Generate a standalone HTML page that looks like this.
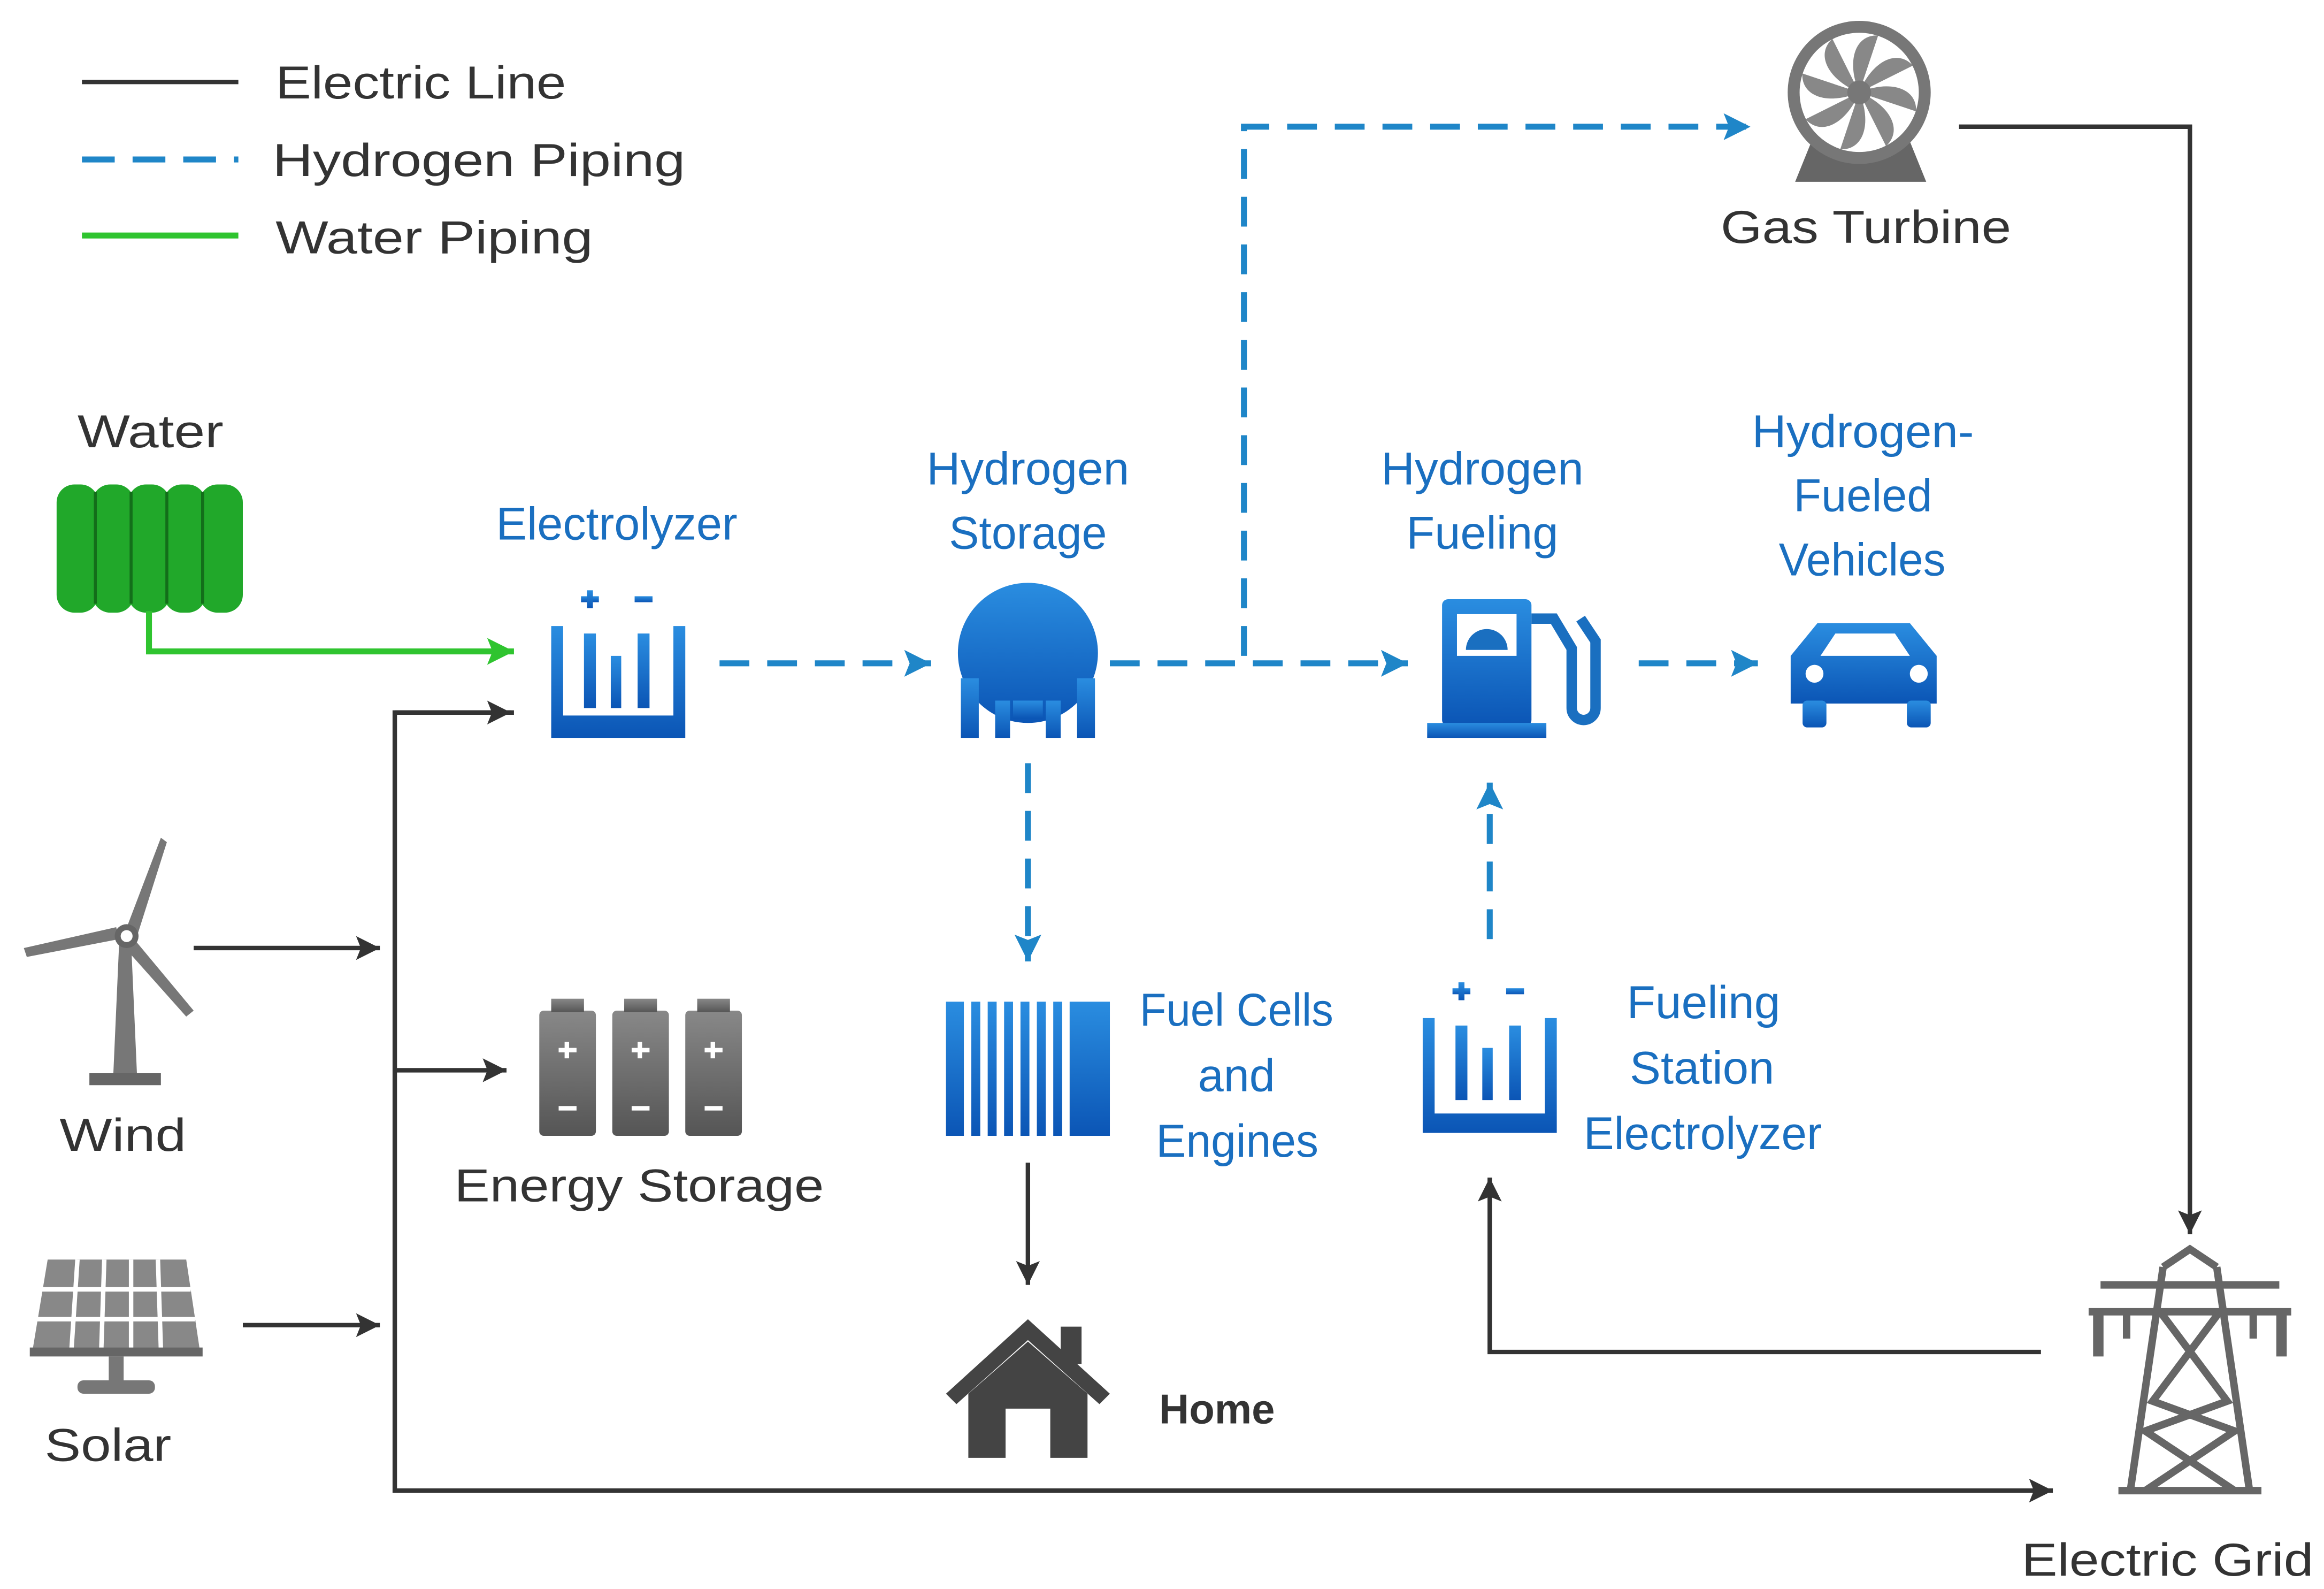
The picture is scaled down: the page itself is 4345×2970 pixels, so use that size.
<!DOCTYPE html>
<html><head><meta charset="utf-8"><style>
html,body{margin:0;padding:0;background:#fff;}
svg{display:block;}
text{font-family:"Liberation Sans",sans-serif;}
</style></head><body>
<svg width="4345" height="2970" viewBox="0 0 1560 1066" preserveAspectRatio="none" xmlns="http://www.w3.org/2000/svg">
<defs>
<marker id="ak" viewBox="0 0 10 10" markerWidth="22" markerHeight="16" refX="10" refY="5" orient="auto" markerUnits="userSpaceOnUse"><path d="M0,0 L10,5 L0,10 L2,5 Z" fill="#333"/></marker>
<marker id="abl" viewBox="0 0 10 10" markerWidth="22" markerHeight="18" refX="10" refY="5" orient="auto" markerUnits="userSpaceOnUse"><path d="M0,0 L10,5 L0,10 L2,5 Z" fill="#1f86c8"/></marker>
<marker id="ag" viewBox="0 0 10 10" markerWidth="24" markerHeight="18" refX="10" refY="5" orient="auto" markerUnits="userSpaceOnUse"><path d="M0,0 L10,5 L0,10 L2,5 Z" fill="#2fc42f"/></marker>
<linearGradient id="bl" x1="0" y1="0" x2="0" y2="1"><stop offset="0" stop-color="#2a8de0"/><stop offset="1" stop-color="#0b55b5"/></linearGradient>
<linearGradient id="gr" x1="0" y1="0" x2="0" y2="1"><stop offset="0" stop-color="#888"/><stop offset="1" stop-color="#555"/></linearGradient>
</defs>
<rect width="1560" height="1066" fill="#fff"/>

<!-- Legend -->
<line x1="55" y1="55" x2="160" y2="55" stroke="#333" stroke-width="3"/>
<text x="185" y="66" font-size="31" fill="#333" textLength="195" lengthAdjust="spacingAndGlyphs">Electric Line</text>
<line x1="55" y1="107" x2="160" y2="107" stroke="#1f86c8" stroke-width="4" stroke-dasharray="22,12"/>
<text x="183" y="118" font-size="31" fill="#333" textLength="277" lengthAdjust="spacingAndGlyphs">Hydrogen Piping</text>
<line x1="55" y1="158" x2="160" y2="158" stroke="#2fc42f" stroke-width="4"/>
<text x="185" y="170" font-size="31" fill="#333" textLength="213" lengthAdjust="spacingAndGlyphs">Water Piping</text>

<!-- Water -->
<text x="52" y="300" font-size="31" fill="#333" textLength="98" lengthAdjust="spacingAndGlyphs">Water</text>
<g fill="#21a82a">
<rect x="38" y="325" width="28" height="86" rx="12"/><rect x="62" y="325" width="28" height="86" rx="12"/>
<rect x="86" y="325" width="28" height="86" rx="12"/><rect x="110" y="325" width="28" height="86" rx="12"/>
<rect x="134" y="325" width="29" height="86" rx="12"/>
</g>
<g stroke="#136e1a" stroke-width="2"><line x1="64" y1="330" x2="64" y2="405"/><line x1="88" y1="330" x2="88" y2="405"/><line x1="112" y1="330" x2="112" y2="405"/><line x1="136" y1="330" x2="136" y2="405"/></g>
<path d="M100,410 V437 H345" fill="none" stroke="#2fc42f" stroke-width="4" marker-end="url(#ag)"/>

<!-- Electrolyzer -->
<text x="333" y="362" font-size="31" fill="#1a6fc0" textLength="162" lengthAdjust="spacingAndGlyphs">Electrolyzer</text>
<g fill="url(#bl)">
<path d="M370,420 h8 v60 h74 v-60 h8 v75 h-90 z" />
<rect x="392" y="425" width="8" height="50"/><rect x="410" y="440" width="7" height="35"/><rect x="428" y="425" width="8" height="50"/>
<rect x="390" y="400" width="12" height="4"/><rect x="394" y="396" width="4" height="12"/><rect x="426" y="400" width="12" height="4"/>
</g>
<line x1="483" y1="445" x2="625" y2="445" stroke="#1f86c8" stroke-width="4" stroke-dasharray="20,12" marker-end="url(#abl)"/>

<!-- Hydrogen storage -->
<text x="622" y="325" font-size="31" fill="#1a6fc0" textLength="136" lengthAdjust="spacingAndGlyphs">Hydrogen</text>
<text x="637" y="368" font-size="31" fill="#1a6fc0" textLength="106" lengthAdjust="spacingAndGlyphs">Storage</text>
<g fill="url(#bl)"><circle cx="690" cy="438" r="47"/>
<rect x="645" y="455" width="12" height="40"/><rect x="668" y="470" width="10" height="25"/><rect x="702" y="470" width="10" height="25"/><rect x="723" y="455" width="12" height="40"/><rect x="680" y="470" width="20" height="12"/></g>
<line x1="745" y1="445" x2="945" y2="445" stroke="#1f86c8" stroke-width="4" stroke-dasharray="20,12" marker-end="url(#abl)"/>
<path d="M835,440 V85 H1175" fill="none" stroke="#1f86c8" stroke-width="4" stroke-dasharray="20,12" marker-end="url(#abl)"/>

<!-- Gas turbine -->
<g>
<path d="M1205,122 L1222,80 H1276 L1293,122 Z" fill="#666"/>
<circle cx="1248" cy="62" r="48" fill="#777"/>
<circle cx="1248" cy="62" r="40" fill="#fff"/>
<g fill="#888" transform="translate(1248,62)">
<path d="M0,0 C8,-20 25,-30 36,-18 Z"/><path d="M0,0 C8,-20 25,-30 36,-18 Z" transform="rotate(45)"/>
<path d="M0,0 C8,-20 25,-30 36,-18 Z" transform="rotate(90)"/><path d="M0,0 C8,-20 25,-30 36,-18 Z" transform="rotate(135)"/>
<path d="M0,0 C8,-20 25,-30 36,-18 Z" transform="rotate(180)"/><path d="M0,0 C8,-20 25,-30 36,-18 Z" transform="rotate(225)"/>
<path d="M0,0 C8,-20 25,-30 36,-18 Z" transform="rotate(270)"/><path d="M0,0 C8,-20 25,-30 36,-18 Z" transform="rotate(315)"/>
<circle r="8" fill="#777"/></g>
</g>
<text x="1155" y="163" font-size="31" fill="#333" textLength="195" lengthAdjust="spacingAndGlyphs">Gas Turbine</text>
<path d="M1315,85 H1470 V828" fill="none" stroke="#333" stroke-width="3" marker-end="url(#ak)"/>

<!-- Hydrogen Fueling -->
<text x="927" y="325" font-size="31" fill="#1a6fc0" textLength="136" lengthAdjust="spacingAndGlyphs">Hydrogen</text>
<text x="944" y="368" font-size="31" fill="#1a6fc0" textLength="102" lengthAdjust="spacingAndGlyphs">Fueling</text>
<g fill="url(#bl)">
<rect x="968" y="402" width="60" height="85" rx="4"/>
<rect x="958" y="485" width="80" height="10"/>
<path d="M1028,415 h15 l12,20 v40 a8,8 0 0 0 16,0 v-45 l-10,-15" fill="none" stroke="#1a6fc0" stroke-width="7"/>
</g>
<rect x="978" y="412" width="40" height="28" fill="#fff"/>
<path d="M984,436 a14,14 0 0 1 28,0 z" fill="#1a6fc0"/>
<line x1="1100" y1="445" x2="1180" y2="445" stroke="#1f86c8" stroke-width="4" stroke-dasharray="20,12" marker-end="url(#abl)"/>

<!-- Vehicles -->
<text x="1176" y="300" font-size="31" fill="#1a6fc0" textLength="149" lengthAdjust="spacingAndGlyphs">Hydrogen-</text>
<text x="1204" y="343" font-size="31" fill="#1a6fc0" textLength="93" lengthAdjust="spacingAndGlyphs">Fueled</text>
<text x="1194" y="386" font-size="31" fill="#1a6fc0" textLength="112" lengthAdjust="spacingAndGlyphs">Vehicles</text>
<g fill="url(#bl)">
<path d="M1202,440 l18,-22 h62 l18,22 v32 h-98 z"/>
<rect x="1210" y="470" width="16" height="18" rx="3"/><rect x="1280" y="470" width="16" height="18" rx="3"/>
</g>
<path d="M1222,440 l10,-15 h40 l10,15 z" fill="#fff"/>
<circle cx="1218" cy="452" r="6" fill="#fff"/><circle cx="1288" cy="452" r="6" fill="#fff"/>

<!-- Storage down to fuel cells -->
<line x1="690" y1="512" x2="690" y2="645" stroke="#1f86c8" stroke-width="4" stroke-dasharray="20,12" marker-end="url(#abl)"/>
<g fill="url(#bl)">
<rect x="635" y="672" width="12" height="90"/><rect x="652" y="672" width="6" height="90"/><rect x="663" y="672" width="6" height="90"/>
<rect x="674" y="672" width="6" height="90"/><rect x="685" y="672" width="6" height="90"/><rect x="696" y="672" width="6" height="90"/>
<rect x="707" y="672" width="6" height="90"/><rect x="718" y="672" width="27" height="90"/>
</g>
<text x="765" y="688" font-size="31" fill="#1a6fc0" textLength="130" lengthAdjust="spacingAndGlyphs">Fuel Cells</text>
<text x="830" y="732" font-size="31" fill="#1a6fc0" text-anchor="middle">and</text>
<text x="776" y="776" font-size="31" fill="#1a6fc0" textLength="109" lengthAdjust="spacingAndGlyphs">Engines</text>
<line x1="690" y1="780" x2="690" y2="862" stroke="#333" stroke-width="3" marker-end="url(#ak)"/>

<!-- Home -->
<g fill="#444">
<path d="M635,935 L690,885 L745,935 L738,942 L690,899 L642,942 Z"/>
<rect x="712" y="890" width="14" height="25"/>
<path d="M650,935 L690,900 L730,935 V978 H705 V945 H675 V978 H650 Z"/>
</g>
<text x="778" y="955" font-size="28" font-weight="bold" fill="#333">Home</text>

<!-- Fueling station electrolyzer -->
<g fill="url(#bl)">
<path d="M955,683 h8 v64 h74 v-64 h8 v77 h-90 z"/>
<rect x="977" y="688" width="8" height="50"/><rect x="995" y="703" width="7" height="35"/><rect x="1013" y="688" width="8" height="50"/>
<rect x="975" y="663" width="12" height="4"/><rect x="979" y="659" width="4" height="12"/><rect x="1011" y="663" width="12" height="4"/>
</g>
<text x="1092" y="683" font-size="31" fill="#1a6fc0" textLength="103" lengthAdjust="spacingAndGlyphs">Fueling</text>
<text x="1094" y="727" font-size="31" fill="#1a6fc0" textLength="97" lengthAdjust="spacingAndGlyphs">Station</text>
<text x="1063" y="771" font-size="31" fill="#1a6fc0" textLength="160" lengthAdjust="spacingAndGlyphs">Electrolyzer</text>
<line x1="1000" y1="630" x2="1000" y2="525" stroke="#1f86c8" stroke-width="4" stroke-dasharray="20,12" marker-end="url(#abl)"/>
<path d="M1370,907 H1000 V790" fill="none" stroke="#333" stroke-width="3" marker-end="url(#ak)"/>

<!-- Wind -->
<g fill="#777">
<path d="M80,632 L88,632 L92,722 L76,722 Z"/>
<rect x="60" y="720" width="48" height="8" fill="#666"/>
<path d="M84,625 L108,562 L112,565 L92,628 Z"/>
<path d="M80,630 L18,642 L16,636 L78,622 Z"/>
<path d="M90,630 L130,678 L125,682 L84,636 Z"/>
<circle cx="85" cy="628" r="8" fill="#666"/><circle cx="85" cy="628" r="4" fill="#fff"/>
</g>
<text x="40" y="772" font-size="31" fill="#333" textLength="85" lengthAdjust="spacingAndGlyphs">Wind</text>
<line x1="130" y1="636" x2="255" y2="636" stroke="#333" stroke-width="3" marker-end="url(#ak)"/>

<!-- Solar -->
<g>
<path d="M32,845 H125 L134,905 H22 Z" fill="#888"/>
<g stroke="#fff" stroke-width="3">
<line x1="28" y1="865" x2="128" y2="865"/><line x1="25" y1="885" x2="131" y2="885"/>
<line x1="52" y1="845" x2="48" y2="905"/><line x1="70" y1="845" x2="68" y2="905"/><line x1="88" y1="845" x2="88" y2="905"/><line x1="106" y1="845" x2="108" y2="905"/>
</g>
<rect x="20" y="904" width="116" height="6" fill="#666"/>
<rect x="73" y="910" width="10" height="18" fill="#777"/>
<rect x="52" y="926" width="52" height="9" rx="4" fill="#777"/>
</g>
<text x="30" y="980" font-size="31" fill="#333" textLength="85" lengthAdjust="spacingAndGlyphs">Solar</text>
<line x1="163" y1="889" x2="255" y2="889" stroke="#333" stroke-width="3" marker-end="url(#ak)"/>

<!-- Electrical bus -->
<path d="M345,478 H265 V1000 H1378" fill="none" stroke="#333" stroke-width="3" marker-end="url(#ak)"/>
<line x1="265" y1="478" x2="343" y2="478" stroke="#333" stroke-width="3" marker-end="url(#ak)"/>
<line x1="265" y1="718" x2="340" y2="718" stroke="#333" stroke-width="3" marker-end="url(#ak)"/>

<!-- Energy storage -->
<g fill="url(#gr)">
<rect x="362" y="678" width="38" height="84" rx="3"/><rect x="370" y="670" width="22" height="9"/>
<rect x="411" y="678" width="38" height="84" rx="3"/><rect x="419" y="670" width="22" height="9"/>
<rect x="460" y="678" width="38" height="84" rx="3"/><rect x="468" y="670" width="22" height="9"/>
</g>
<g fill="#fff">
<rect x="375" y="703" width="12" height="3"/><rect x="379" y="699" width="3" height="11"/><rect x="375" y="742" width="12" height="3"/>
<rect x="424" y="703" width="12" height="3"/><rect x="428" y="699" width="3" height="11"/><rect x="424" y="742" width="12" height="3"/>
<rect x="473" y="703" width="12" height="3"/><rect x="477" y="699" width="3" height="11"/><rect x="473" y="742" width="12" height="3"/>
</g>
<text x="305" y="806" font-size="31" fill="#333" textLength="248" lengthAdjust="spacingAndGlyphs">Energy Storage</text>

<!-- Electric grid tower -->
<g stroke="#666" stroke-width="5" fill="none">
<path d="M1452,850 L1430,1000 M1488,850 L1510,1000"/>
<path d="M1402,880 H1538 M1410,862 H1530"/>
<path d="M1450,880 L1495,940 L1440,960 L1500,1000 M1490,880 L1445,940 L1500,960 L1440,1000"/>
<path d="M1452,850 L1470,838 L1488,850"/>
<path d="M1422,1000 H1518"/>
</g>
<g fill="#666"><rect x="1405" y="880" width="7" height="30"/><rect x="1528" y="880" width="7" height="30"/>
<rect x="1425" y="880" width="5" height="18"/><rect x="1510" y="880" width="5" height="18"/></g>
<text x="1357" y="1057" font-size="31" fill="#333" textLength="196" lengthAdjust="spacingAndGlyphs">Electric Grid</text>
</svg>
</body></html>
